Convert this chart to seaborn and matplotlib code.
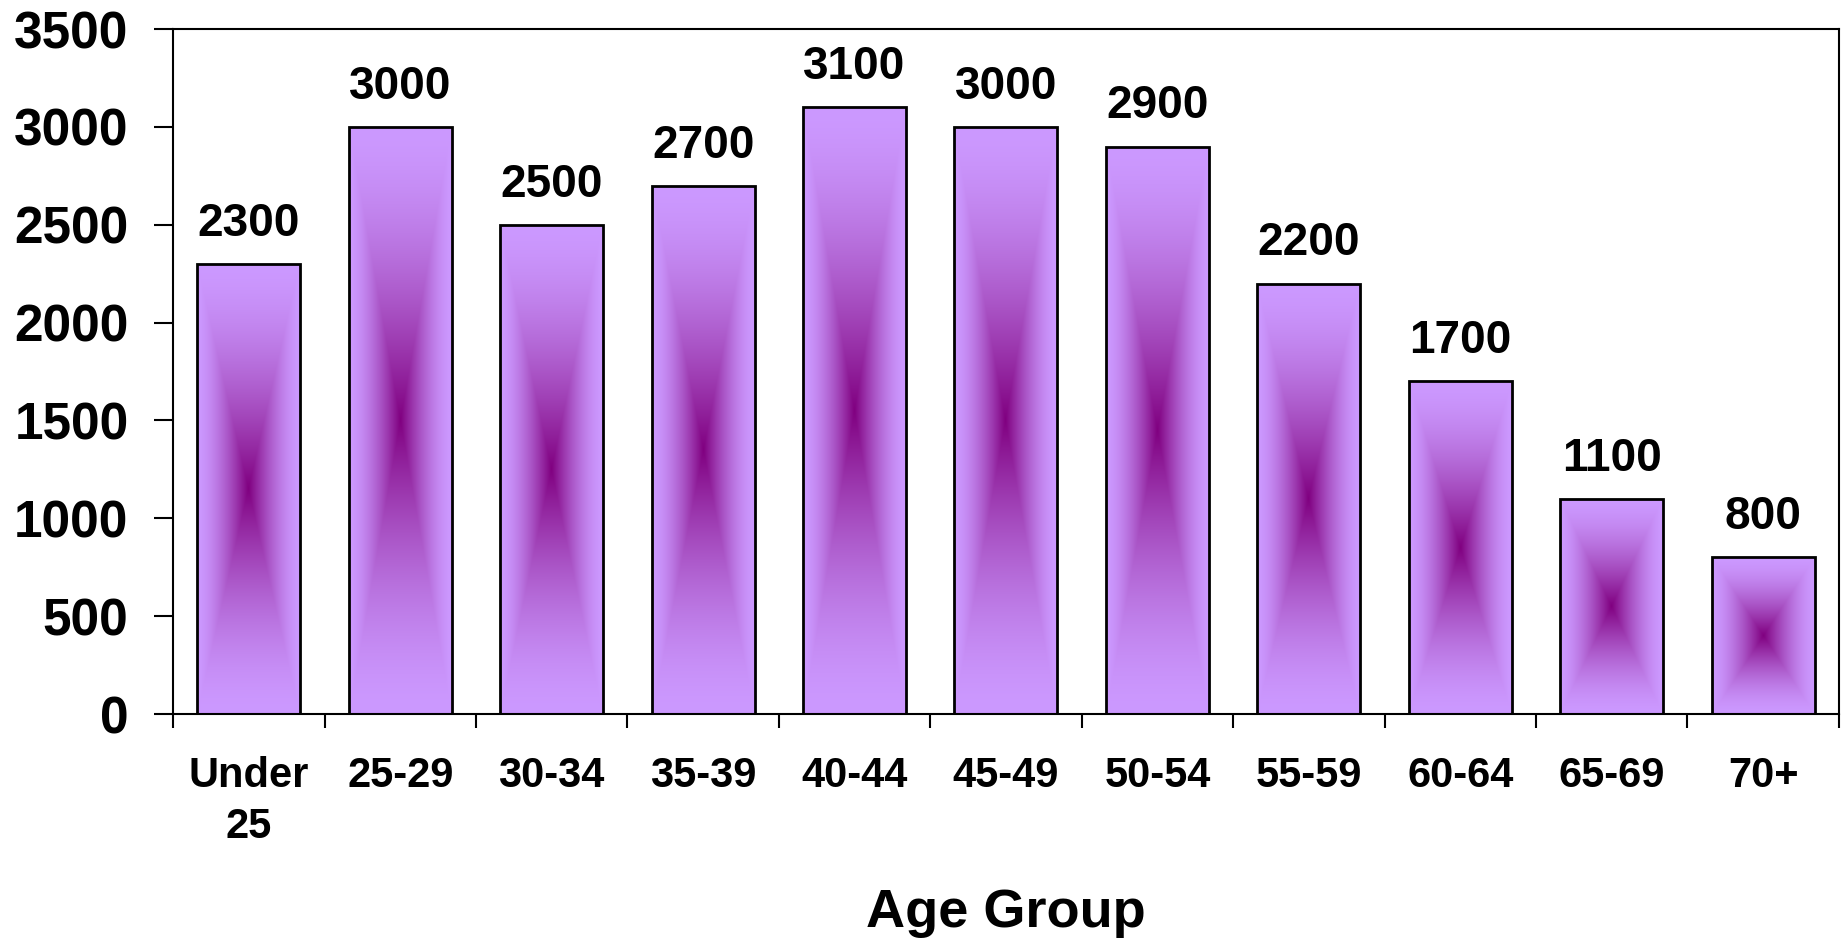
import numpy as np
import matplotlib
matplotlib.use("Agg")
import matplotlib.pyplot as plt
import seaborn as sns
from matplotlib.colors import to_rgb

categories = ["Under\n25", "25-29", "30-34", "35-39", "40-44", "45-49",
              "50-54", "55-59", "60-64", "65-69", "70+"]
values = [2300, 3000, 2500, 2700, 3100, 3000, 2900, 2200, 1700, 1100, 800]
y_ticks = [0, 500, 1000, 1500, 2000, 2500, 3000, 3500]
x_title = "Age Group"

sns.set_theme(style="white")
plt.rcParams['font.family'] = ['Liberation Sans', 'DejaVu Sans']
plt.rcParams['font.weight'] = 'bold'
plt.rcParams['text.color'] = 'black'
plt.rcParams['axes.labelcolor'] = 'black'
plt.rcParams['xtick.color'] = 'black'
plt.rcParams['ytick.color'] = 'black'

fig = plt.figure(figsize=(18.45, 9.39), dpi=100)
ax = fig.add_axes([0.0938, 0.2396, 0.9967 - 0.0938, 0.969 - 0.2396])

sns.barplot(x=categories, y=values, ax=ax, width=0.68, color="#CC99FF",
            edgecolor="black", linewidth=2.0, saturation=1)

ax.set_xlim(-0.5, len(categories) - 0.5)
ax.set_ylim(0, 3500)
ax.set_yticks(y_ticks)
ax.set_yticklabels([str(v) for v in y_ticks], fontsize=37, fontweight='bold',
                   color='black')

# gradient "from center"
center = np.array(to_rgb("#800080"))
edge = np.array(to_rgb("#CC99FF"))
n = 300
for p in ax.patches:
    x0, y0 = p.get_x(), p.get_y()
    w, h = p.get_width(), p.get_height()
    gx = np.linspace(-1, 1, n)
    gy = np.linspace(-1, 1, n)
    X, Y = np.meshgrid(gx, gy)
    t = np.maximum(np.abs(X), np.abs(Y))
    s = np.clip(1 - t, 0, 1) ** 1.6
    img = edge[None, None, :] + (center - edge)[None, None, :] * s[:, :, None]
    im = ax.imshow(img, extent=(x0, x0 + w, y0, y0 + h), aspect='auto',
                   origin='lower', zorder=1, interpolation='bilinear')
    im.set_clip_path(p)
    p.set_facecolor("none")
    p.set_zorder(2)

ax.set_xlim(-0.5, len(categories) - 0.5)
ax.set_ylim(0, 3500)

for i, v in enumerate(values):
    ax.annotate(str(v), (i, v), xytext=(0, 13), textcoords='offset points',
                ha='center', va='bottom', fontsize=33, fontweight='bold',
                color='black')

ax.set_xticks(range(len(categories)))
ax.set_xticklabels(categories, fontsize=30, fontweight='bold', linespacing=1.35,
                   color='black')
ax.set_xticks(np.arange(-0.5, len(categories), 1.0), minor=True)
ax.tick_params(axis='x', which='major', length=0, pad=30)
ax.tick_params(axis='x', which='minor', length=10, width=1.5, color='black',
               direction='out', bottom=True)
ax.tick_params(axis='y', which='major', length=14, width=1.5, color='black',
               direction='out', left=True, pad=18)
for lab in ax.get_xticklabels():
    lab.set_verticalalignment('top')

ax.set_xlabel(x_title, fontsize=39, fontweight='bold', labelpad=30, color='black')
ax.set_ylabel("")

for s in ax.spines.values():
    s.set_visible(True)
    s.set_color('black')
    s.set_linewidth(1.5)

fig.savefig("out.png", dpi=100, facecolor='white')
